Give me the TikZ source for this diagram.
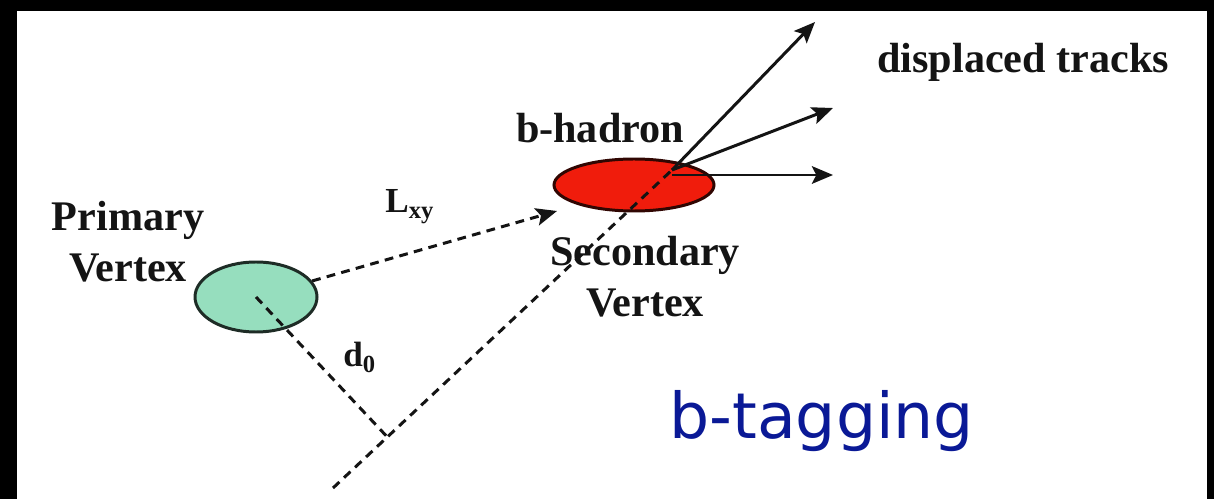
\documentclass[tikz,border=0pt]{standalone}
\usepackage{fontspec}
\setmainfont{Liberation Serif}
\newfontfamily\tagfont{DejaVu Sans}
\usetikzlibrary{arrows.meta,positioning,shapes.geometric,calc}
\definecolor{mint}{RGB}{150,222,190}
\definecolor{hadron}{RGB}{240,28,12}
\definecolor{royal}{RGB}{10,25,150}
\definecolor{ink}{RGB}{20,20,20}
\tikzset{
  >={Stealth[length=12pt,width=10pt,inset=2.5pt]},
  vertex/.style={ellipse,draw=#1!20!black,fill=#1,line width=1.7pt,inner sep=0pt},
  vertex/.default=mint,
  tag/.style={font=\fontsize{24}{29}\selectfont\bfseries,text=ink,inner sep=0pt,align=center},
  small tag/.style={font=\fontsize{20}{24}\selectfont\bfseries,text=ink,inner sep=0pt},
  track/.style={->,line width=1.7pt,draw=ink},
  flight/.style={line width=1.7pt,draw=ink,dash pattern=on 5pt off 3.6pt},
}

\begin{document}
\begin{tikzpicture}[x=0.2mm,y=-0.2mm]
  % frame
  \fill[black] (0,0) rectangle (1214,499);
  \fill[white] (17,11) rectangle (1207,499);
  \useasboundingbox (0,0) rectangle (1214,499);
  % vertices
  \node[vertex=mint,minimum width=24.4mm,minimum height=14mm] (pv) at (256,297) {};
  \node[vertex=hadron,minimum width=32mm,minimum height=10.4mm] (sv) at (634,185) {};
  \coordinate (decay) at (672,170);
  \coordinate (lxy) at (557,211);
  \coordinate (tail) at (333,488);
  \coordinate (foot) at ($(tail)!(pv.center)!(decay)$);
  \coordinate (t1) at (815,22);
  \coordinate (t2) at (833,108);
  \coordinate (t3) at (833,175);
  % flight path and impact parameter
  \draw[flight,->] (pv) -- (lxy);
  \draw[flight] (tail) -- (decay);
  \draw[flight] (pv.center) -- (foot);
  % displaced tracks
  \draw[track] (decay) -- (t1);
  \draw[track] (decay) -- (t2);
  \draw[track] (decay |- t3) -- (t3);
  % labels
  \node[tag] (pvlab) at (128,242) {Primary\\Vertex};
  \node[tag] (svlab) at (645,277) {Secondary\\Vertex};
  \node[tag,anchor=base] (hlab) at (600,143) {b-hadron};
  \node[tag,anchor=base west] (dlab) at (877,73) {displaced tracks};
  \node[small tag,anchor=base west] (llab) at (385,213) {L\textsubscript{xy}};
  \node[small tag,anchor=base west] (d0lab) at (343,367) {d\textsubscript{0}};
  \node[anchor=base west,inner sep=0pt,text=royal,font=\tagfont\fontsize{36}{40}\selectfont] (btag) at (669,438) {b-tagging};
\end{tikzpicture}
\end{document}
